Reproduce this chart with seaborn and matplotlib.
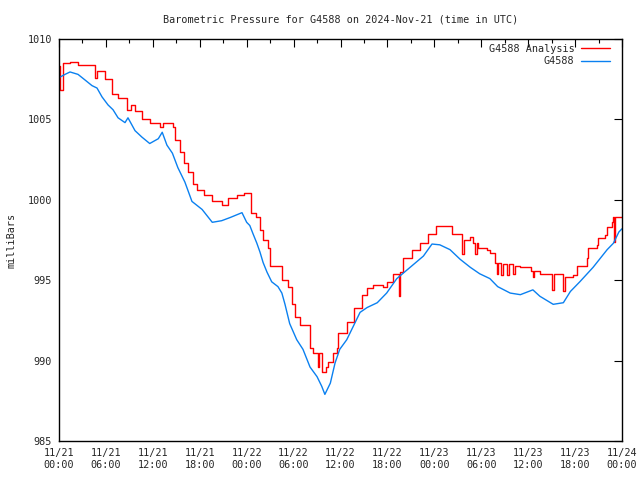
import pandas as pd
import matplotlib
matplotlib.use("Agg")
import matplotlib.pyplot as plt
import seaborn as sns

# Horas desde 2024-11-21 00:00 UTC y presion (mb)
horas_analisis = [0.0, 0.08, 0.51, 1.41, 2.43, 3.58, 4.6, 4.86, 5.88, 6.78, 7.55,
                  8.7, 9.2, 9.72, 10.6, 11.6, 12.9, 13.3, 14.6, 14.8, 15.5, 16.0,
                  16.5, 17.1, 17.6, 18.5, 19.6, 20.8, 21.6, 22.8, 23.7, 24.6, 25.2,
                  25.7, 26.1, 26.7, 27.0, 28.5, 29.3, 29.8, 30.2, 30.8, 32.1, 32.5,
                  33.1, 33.25, 33.6, 34.1, 34.4, 35.0, 35.6, 35.7, 36.8, 37.7, 38.8,
                  39.4, 40.2, 41.4, 41.9, 42.7, 43.5, 43.6, 44.0, 45.1, 46.2, 47.2,
                  48.2, 50.2, 51.6, 51.75, 52.6, 53.0, 53.2, 53.4, 53.6, 54.7, 55.1,
                  55.8, 56.0, 56.1, 56.5, 56.8, 57.3, 57.6, 58.1, 58.3, 59.0, 60.3,
                  60.6, 60.75, 61.5, 63.1, 63.3, 64.5, 64.7, 65.7, 66.3, 67.5, 67.7,
                  68.8, 68.9, 69.8, 70.1, 70.7, 70.85, 71.0, 71.1, 72.0]
presion_analisis = [1008.3, 1006.8, 1008.5, 1008.6, 1008.4, 1008.4, 1007.6, 1008.0,
                    1007.5, 1006.6, 1006.3, 1005.6, 1005.9, 1005.5, 1005.0, 1004.8,
                    1004.5, 1004.8, 1004.5, 1003.7, 1003.0, 1002.3, 1001.7, 1001.0,
                    1000.6, 1000.3, 999.9, 999.7, 1000.1, 1000.3, 1000.4, 999.2,
                    998.9, 998.1, 997.5, 997.0, 995.9, 995.0, 994.6, 993.5, 992.7,
                    992.2, 990.8, 990.5, 989.6, 990.5, 989.3, 989.6, 989.9, 990.5,
                    990.8, 991.7, 992.4, 993.3, 994.1, 994.5, 994.7, 994.6, 994.9,
                    995.4, 994.0, 995.5, 996.4, 996.9, 997.3, 997.9, 998.4, 997.9,
                    996.6, 997.5, 997.7, 997.3, 996.6, 997.3, 997.0, 996.9, 996.7,
                    996.1, 995.4, 996.1, 995.3, 996.0, 995.3, 996.0, 995.4, 995.9,
                    995.8, 995.6, 995.2, 995.6, 995.4, 994.4, 995.4, 994.3, 995.2,
                    995.3, 995.9, 996.4, 997.0, 997.2, 997.6, 997.8, 998.3, 998.6,
                    998.9, 997.4, 998.9, 998.9]

horas_obs = [0.0, 0.77, 1.41, 2.43, 3.33, 4.22, 4.86, 5.5, 6.27, 6.91, 7.55, 8.44,
             8.82, 9.72, 10.6, 11.6, 12.7, 13.2, 13.8, 14.5, 15.2, 16.1, 17.0, 18.3,
             19.6, 20.8, 21.9, 23.4, 24.0, 24.4, 24.8, 25.3, 25.7, 26.1, 26.6, 27.2,
             28.0, 28.5, 28.9, 29.5, 30.4, 31.2, 32.1, 33.0, 33.6, 34.0, 34.7, 35.3,
             35.9, 36.8, 37.6, 38.5, 39.4, 40.7, 41.9, 43.2, 44.9, 46.6, 47.7, 48.7,
             50.0, 51.3, 52.6, 53.8, 55.1, 56.1, 57.7, 59.0, 60.6, 61.5, 63.2, 64.5,
             65.4, 66.6, 68.3, 70.1, 70.9, 71.6, 72.0]
presion_obs = [1007.6, 1007.8, 1007.95, 1007.8, 1007.45, 1007.1, 1006.95, 1006.4,
               1005.9, 1005.6, 1005.1, 1004.8, 1005.1, 1004.3, 1003.9, 1003.5,
               1003.8, 1004.2, 1003.4, 1002.9, 1002.0, 1001.1, 999.9, 999.4, 998.6,
               998.7, 998.9, 999.2, 998.6, 998.4, 997.9, 997.3, 996.75, 996.1, 995.5,
               994.9, 994.6, 994.2, 993.5, 992.3, 991.3, 990.7, 989.6, 989.0, 988.4,
               987.9, 988.6, 989.85, 990.7, 991.3, 992.1, 993.0, 993.3, 993.6, 994.2,
               995.1, 995.8, 996.5, 997.25, 997.2, 996.9, 996.3, 995.8, 995.4, 995.1,
               994.6, 994.2, 994.1, 994.4, 994.0, 993.5, 993.6, 994.3, 994.9, 995.8,
               996.9, 997.3, 998.0, 998.2]

ticks_x = [0, 6, 12, 18, 24, 30, 36, 42, 48, 54, 60, 66, 72]
etiquetas_x = ['11/21\n00:00', '11/21\n06:00', '11/21\n12:00', '11/21\n18:00',
               '11/22\n00:00', '11/22\n06:00', '11/22\n12:00', '11/22\n18:00',
               '11/23\n00:00', '11/23\n06:00', '11/23\n12:00', '11/23\n18:00',
               '11/24\n00:00']
ticks_y = [985, 990, 995, 1000, 1005, 1010]

df_analisis = pd.DataFrame({'hora': horas_analisis, 'presion': presion_analisis})
df_obs = pd.DataFrame({'hora': horas_obs, 'presion': presion_obs})

sns.set_style('white')
plt.rcParams['font.family'] = ['DejaVu Sans Mono']
plt.rcParams['font.size'] = 7.3

fig = plt.figure(figsize=(6.4, 4.8), dpi=100)
ax = fig.add_axes([0.0922, 0.08125, 0.8797, 0.8375])

sns.lineplot(data=df_analisis, x='hora', y='presion', ax=ax, color='#ff0000',
             linewidth=1.0, drawstyle='steps-post', label='G4588 Analysis',
             estimator=None, sort=False)
sns.lineplot(data=df_obs, x='hora', y='presion', ax=ax, color='#0a80f0',
             linewidth=1.0, label='G4588', estimator=None, sort=False)

ax.set_xlim(0, 72)
ax.set_ylim(985, 1010)
ax.set_xticks(ticks_x)
ax.set_xticklabels(etiquetas_x)
ax.set_xticks(range(0, 73, 3), minor=True)
ax.set_yticks(ticks_y)
ax.tick_params(which='both', direction='in', top=True, right=True,
               color='black', labelsize=7.3, pad=5)
ax.tick_params(which='major', length=6, width=0.8)
ax.tick_params(which='minor', length=3, width=0.8)
for s in ax.spines.values():
    s.set_color('black')
    s.set_linewidth(1.0)

ax.set_xlabel('')
ax.set_ylabel('milliBars', fontsize=7.3, labelpad=8)
ax.set_title('Barometric Pressure for G4588 on 2024-Nov-21 (time in UTC)',
             fontsize=7.3, pad=12)

ley = ax.legend(loc='upper right', bbox_to_anchor=(0.986, 0.998), frameon=False,
                markerfirst=False, fontsize=7.3, handlelength=2.9,
                borderaxespad=0.0, labelspacing=0.25, handletextpad=0.6)
for t in ley.get_texts():
    t.set_ha('right')

plt.savefig('out.png', dpi=100)
